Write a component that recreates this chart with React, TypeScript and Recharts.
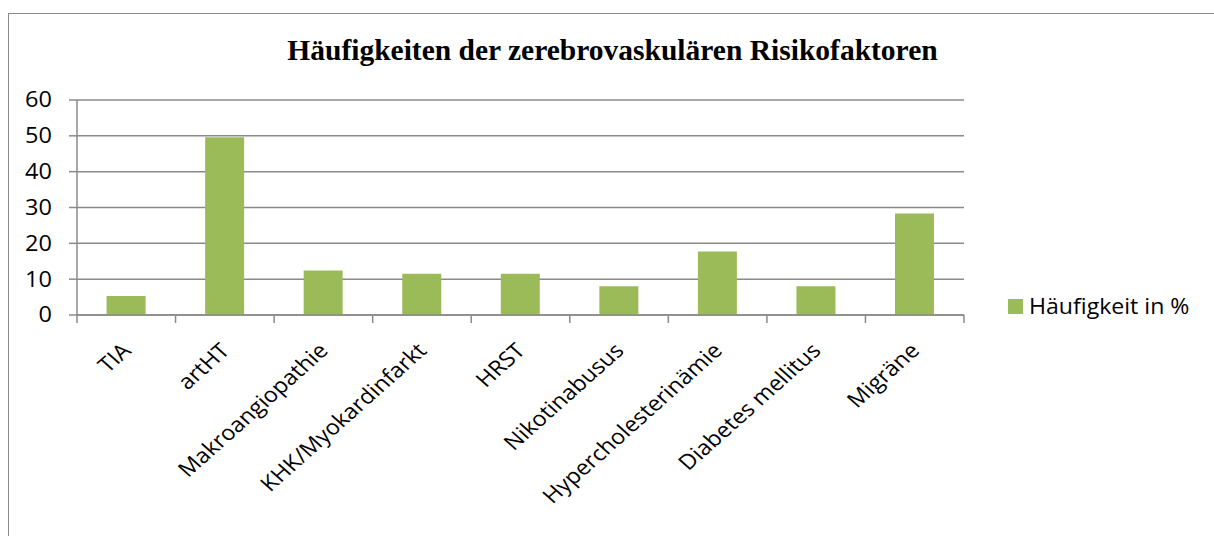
import { BarChart, Bar, XAxis, YAxis, CartesianGrid } from 'recharts'

const CATEGORIES = [
  'TIA', 'artHT', 'Makroangiopathie', 'KHK/Myokardinfarkt', 'HRST',
  'Nikotinabusus', 'Hypercholesterinämie', 'Diabetes mellitus', 'Migräne',
]
const VALUES = [5.3, 49.6, 12.4, 11.5, 11.5, 8.0, 17.7, 8.0, 28.3]
const Y_TICKS = [0, 10, 20, 30, 40, 50, 60]
const SERIES_NAME = 'Häufigkeit in %'
const TITLE = 'Häufigkeiten der zerebrovaskulären Risikofaktoren'

const data = CATEGORIES.map((name, i) => ({ name, value: VALUES[i] }))

const W = 1214
const H = 536
const PLOT_LEFT = 77
const PLOT_RIGHT = 964
const PLOT_TOP = 100
const PLOT_BOTTOM = 315
const BAND = (PLOT_RIGHT - PLOT_LEFT) / CATEGORIES.length
const LINE = '#8a8a8a'
const GREEN = '#9bbb59'
const FONT = '"Open Sans", sans-serif'
// the source picture is slightly stretched sideways, so text is widened a bit
const STRETCH = 1.12

function CategoryTick(props: any) {
  const { x, y, payload, index } = props
  const left = x - BAND / 2
  const tx = x + 6
  const ty = y + 37
  return (
    <g>
      <line x1={left} y1={y} x2={left} y2={y + 8} stroke={LINE} strokeWidth={1.5} />
      {index === CATEGORIES.length - 1 && (
        <line x1={x + BAND / 2} y1={y} x2={x + BAND / 2} y2={y + 8} stroke={LINE} strokeWidth={1.5} />
      )}
      <text x={0} y={0} textAnchor="end" transform={`translate(${tx} ${ty}) scale(${STRETCH} 1) rotate(-45)`}
        fill="#000" fontSize={21} fontFamily={FONT}>
        {payload.value}
      </text>
    </g>
  )
}

function ValueTick(props: any) {
  const { x, y, payload } = props
  return (
    <text x={0} y={0} dy="0.355em" textAnchor="end" transform={`translate(${x} ${y}) scale(${STRETCH} 1)`}
      fill="#000" fontSize={21} fontFamily={FONT}>
      {payload.value}
    </text>
  )
}

export default function App() {
  return (
    <div style={{ position: 'absolute', left: 0, top: 0, width: W, height: H, overflow: 'hidden', background: '#fff' }}>
      <div style={{ position: 'absolute', left: 8, top: 13, width: W + 20, height: H + 20, border: `1.5px solid ${LINE}` }} />
      <div style={{
        position: 'absolute', left: 0, width: 1225, top: 34, textAlign: 'center',
        fontFamily: '"Liberation Serif", "Times New Roman", serif', fontWeight: 'bold', fontSize: 29.5, color: '#000',
      }}>
        {TITLE}
      </div>
      <div style={{ position: 'absolute', left: 0, top: 0 }}>
        <BarChart width={W} height={H} data={data}
          margin={{ top: PLOT_TOP, right: W - PLOT_RIGHT, left: 0, bottom: H - PLOT_BOTTOM - 30 }}
          barCategoryGap="30%">
          <CartesianGrid vertical={false} stroke={LINE} strokeWidth={1.5} />
          <XAxis dataKey="name" height={30} interval={0} tickLine={false} tickSize={0} tickMargin={0}
            axisLine={{ stroke: LINE, strokeWidth: 1.5 }} tick={<CategoryTick />} />
          <YAxis width={PLOT_LEFT} domain={[0, 60]} ticks={Y_TICKS} interval={0} tickSize={8} tickMargin={17}
            axisLine={{ stroke: LINE, strokeWidth: 1.5 }} tickLine={{ stroke: LINE, strokeWidth: 1.5 }}
            tick={<ValueTick />} />
          <Bar dataKey="value" name={SERIES_NAME} fill={GREEN} isAnimationActive={false} />
        </BarChart>
      </div>
      <div style={{
        position: 'absolute', left: 1008, top: 292, display: 'flex', alignItems: 'center',
        fontFamily: FONT, fontSize: 21, color: '#000',
      }}>
        <span style={{ width: 15, height: 15, background: GREEN, marginRight: 6 }} />
        <span style={{ display: 'inline-block', transform: 'scaleX(1.1)', transformOrigin: 'left center' }}>
          {SERIES_NAME}
        </span>
      </div>
    </div>
  )
}
